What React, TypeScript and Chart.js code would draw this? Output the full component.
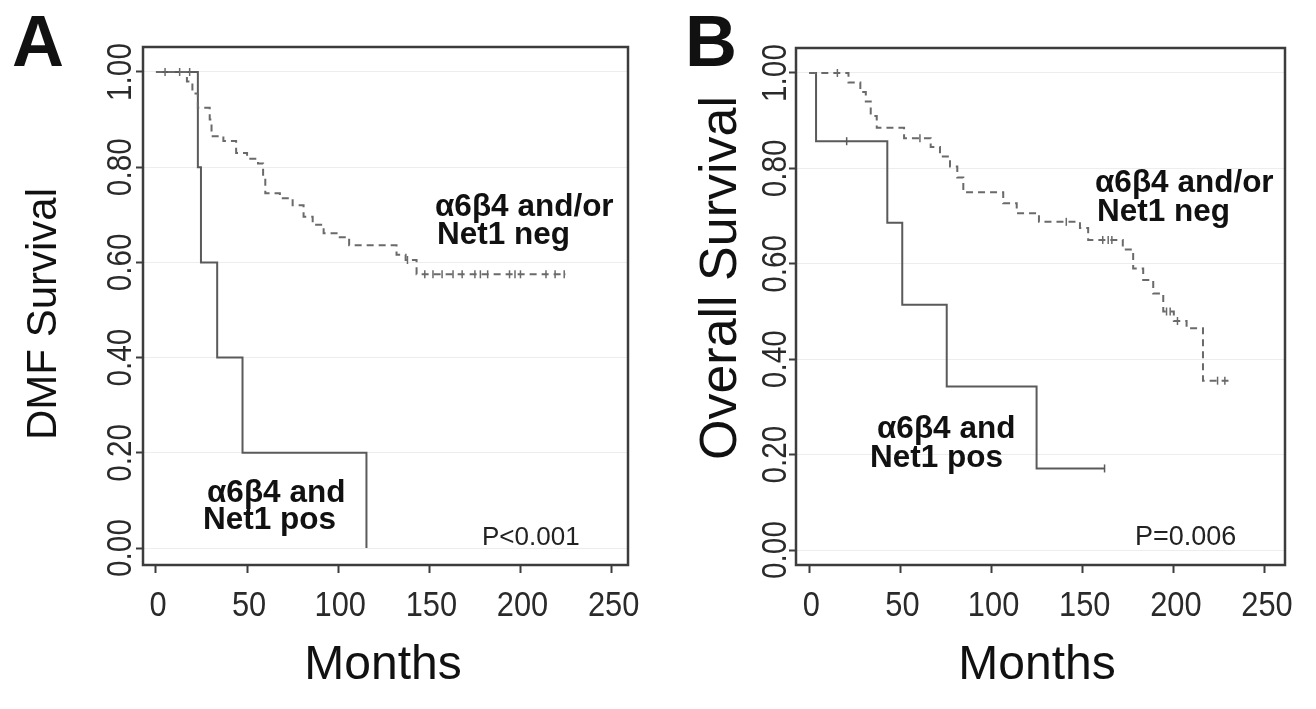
import React, { useEffect, useRef } from 'react';
import { Chart, registerables } from 'chart.js';

Chart.register(...registerables);

// ---------- Panel A: DMF survival ----------
const aNegMonths = [0, 17, 20, 23, 29.5, 30.5, 37, 44, 50, 56, 58.8, 60, 68, 75, 81, 86, 92, 100, 106, 132, 137, 143, 225];
const aNegSurv = [1, 0.98, 0.955, 0.925, 0.9, 0.865, 0.855, 0.83, 0.818, 0.808, 0.777, 0.745, 0.735, 0.72, 0.696, 0.679, 0.661, 0.653, 0.636, 0.616, 0.605, 0.575, 0.575];
const aNegCensorMonths = [5, 13, 18.5, 138, 147.5, 152, 157, 163, 168, 175, 178, 182, 194, 197, 200, 214, 219, 224];
const aNegCensorSurv = [1, 1, 1, 0.605, 0.575, 0.575, 0.575, 0.575, 0.575, 0.575, 0.575, 0.575, 0.575, 0.575, 0.575, 0.575, 0.575, 0.575];
const aPosMonths = [0, 23, 24.7, 33.6, 47.5, 115.5];
const aPosSurv = [1, 0.8, 0.6, 0.4, 0.2, 0];

// ---------- Panel B: Overall survival ----------
const bNegMonths = [0, 21.5, 28, 31, 33.7, 37, 52, 66.6, 71.7, 77.2, 81.2, 84.5, 106.4, 113.8, 126, 148.5, 153, 172, 177.7, 183.2, 188.7, 194.2, 200, 207, 216, 230];
const bNegSurv = [1, 0.98, 0.96, 0.94, 0.91, 0.885, 0.863, 0.845, 0.825, 0.804, 0.781, 0.75, 0.727, 0.706, 0.688, 0.675, 0.65, 0.63, 0.59, 0.566, 0.538, 0.5, 0.48, 0.465, 0.355, 0.355];
const bNegCensorMonths = [15.4, 60.7, 141, 161, 164, 166, 196, 198, 202, 224, 228];
const bNegCensorSurv = [1, 0.863, 0.688, 0.65, 0.65, 0.65, 0.5, 0.5, 0.48, 0.355, 0.355];
const bPosMonths = [0, 3.7, 42.8, 51, 75.4, 124.7, 162];
const bPosSurv = [1, 0.857, 0.686, 0.514, 0.343, 0.171, 0.171];
const bPosCensorMonths = [20.5, 162];
const bPosCensorSurv = [0.857, 0.171];

// ---------- Axes ----------
const xTickValues = [0, 50, 100, 150, 200, 250];
const xTickLabels = ['0', '50', '100', '150', '200', '250'];
const yTickValues = [0, 0.2, 0.4, 0.6, 0.8, 1.0];
const yTickLabels = ['0.00', '0.20', '0.40', '0.60', '0.80', '1.00'];

const FONT = '"Liberation Sans", Arial, Helvetica, sans-serif';

const pts = (xs: number[], ys: number[]) => xs.map((x, i) => ({ x, y: ys[i] }));

type PanelCfg = {
  letter: string;
  yTitle: string;
  pValue: string;
  negLabel: string[];
  posLabel: string[];
  neg: { x: number; y: number }[];
  negCensor: { x: number; y: number }[];
  pos: { x: number; y: number }[];
  posCensor: { x: number; y: number }[];
  layout: any;
};

const panelA: PanelCfg = {
  letter: 'A',
  yTitle: 'DMF Survival',
  pValue: 'P<0.001',
  negLabel: ['\u03B16\u03B24 and/or', 'Net1 neg'],
  posLabel: ['\u03B16\u03B24 and', 'Net1 pos'],
  neg: pts(aNegMonths, aNegSurv),
  negCensor: pts(aNegCensorMonths, aNegCensorSurv),
  pos: pts(aPosMonths, aPosSurv),
  posCensor: [],
  layout: {
    left: 143, top: 47, right: 628, bottom: 565,
    xMin: -7.1, xMax: 259, yMin: -0.0357, yMax: 1.0525,
    letterX: 12, letterY: 66, letterSize: 72,
    yTitleX: 44, yTitleY: 314, yTitleSize: 42,
    yLabelX: 121, xLabelY: 606,
    monthsX: 383, monthsY: 666,
    negX: [435, 437], negY: [216, 244],
    posX: [207, 203], posY: [502, 529],
    pX: 482, pY: 545, pSize: 26,
  },
};

const panelB: PanelCfg = {
  letter: 'B',
  yTitle: 'Overall Survival',
  pValue: 'P=0.006',
  negLabel: ['\u03B16\u03B24 and/or', 'Net1 neg'],
  posLabel: ['\u03B16\u03B24 and', 'Net1 pos'],
  neg: pts(bNegMonths, bNegSurv),
  negCensor: pts(bNegCensorMonths, bNegCensorSurv),
  pos: pts(bPosMonths, bPosSurv),
  posCensor: pts(bPosCensorMonths, bPosCensorSurv),
  layout: {
    left: 138, top: 48, right: 627, bottom: 565,
    xMin: -7.3, xMax: 261, yMin: -0.0314, yMax: 1.0524,
    letterX: 27, letterY: 66, letterSize: 72,
    yTitleX: 64, yTitleY: 278, yTitleSize: 52,
    yLabelX: 118, xLabelY: 606,
    monthsX: 379, monthsY: 666,
    negX: [437, 439], negY: [192, 221],
    posX: [219, 212], posY: [438, 467],
    pX: 477, pY: 545, pSize: 27,
  },
};

const W = 658;
const H = 709;

function Panel({ cfg, offset }: { cfg: PanelCfg; offset: number }) {
  const ref = useRef<HTMLCanvasElement>(null);

  useEffect(() => {
    const L = cfg.layout;
    const decor = {
      id: 'decor' + cfg.letter,
      afterDatasetsDraw(chart: any) {
        const ctx = chart.ctx;
        const ca = chart.chartArea;
        ctx.save();
        ctx.strokeStyle = '#3c3c3c';
        ctx.lineWidth = 2.5;
        ctx.strokeRect(ca.left, ca.top, ca.right - ca.left, ca.bottom - ca.top);
        ctx.restore();
      },
      afterDraw(chart: any) {
        const ctx = chart.ctx;
        const xs = chart.scales.x;
        const ys = chart.scales.y;
        ctx.save();
        ctx.fillStyle = '#111';
        // panel letter
        ctx.font = `bold ${L.letterSize}px ${FONT}`;
        ctx.textAlign = 'left';
        ctx.textBaseline = 'alphabetic';
        ctx.fillText(cfg.letter, L.letterX, L.letterY);
        // y title
        ctx.save();
        ctx.translate(L.yTitleX, L.yTitleY);
        ctx.rotate(-Math.PI / 2);
        ctx.font = `${L.yTitleSize}px ${FONT}`;
        ctx.textAlign = 'center';
        ctx.textBaseline = 'middle';
        ctx.fillText(cfg.yTitle, 0, 0);
        ctx.restore();
        // y tick labels (rotated, slightly condensed)
        ctx.fillStyle = '#2a2a2a';
        ctx.font = `35px ${FONT}`;
        yTickValues.forEach((v, i) => {
          const y = ys.getPixelForValue(v);
          ctx.save();
          ctx.translate(L.yLabelX, y);
          ctx.rotate(-Math.PI / 2);
          ctx.scale(0.85, 1);
          ctx.textAlign = 'center';
          ctx.textBaseline = 'middle';
          ctx.fillText(yTickLabels[i], 0, 0);
          ctx.restore();
        });
        // x tick labels (slightly condensed)
        xTickValues.forEach((v, i) => {
          ctx.save();
          ctx.translate(xs.getPixelForValue(v) + 2, L.xLabelY);
          ctx.scale(0.88, 1);
          ctx.textAlign = 'center';
          ctx.textBaseline = 'middle';
          ctx.fillText(xTickLabels[i], 0, 0);
          ctx.restore();
        });
        // x title
        ctx.fillStyle = '#111';
        ctx.font = `48px ${FONT}`;
        ctx.textAlign = 'center';
        ctx.textBaseline = 'middle';
        ctx.fillText('Months', L.monthsX, L.monthsY);
        // annotations
        ctx.textAlign = 'left';
        ctx.textBaseline = 'alphabetic';
        ctx.font = `bold 31.5px ${FONT}`;
        cfg.negLabel.forEach((s, i) => ctx.fillText(s, L.negX[i], L.negY[i]));
        cfg.posLabel.forEach((s, i) => ctx.fillText(s, L.posX[i], L.posY[i]));
        ctx.font = `${L.pSize}px ${FONT}`;
        ctx.fillStyle = '#222';
        ctx.fillText(cfg.pValue, L.pX, L.pY);
        ctx.restore();
      },
    };

    const chart = new Chart(ref.current as HTMLCanvasElement, {
      type: 'line',
      data: {
        datasets: [
          {
            label: 'neg',
            data: cfg.neg,
            stepped: 'before',
            borderColor: '#6a6a6a',
            borderWidth: 2,
            borderDash: [7, 5],
            pointRadius: 0,
            fill: false,
          },
          {
            label: 'negCensor',
            data: cfg.negCensor,
            showLine: false,
            pointStyle: 'line',
            rotation: 90,
            pointRadius: 4,
            borderColor: '#6a6a6a',
            borderWidth: 1.5,
          },
          {
            label: 'pos',
            data: cfg.pos,
            stepped: 'before',
            borderColor: '#5a5a5a',
            borderWidth: 2,
            pointRadius: 0,
            fill: false,
          },
          {
            label: 'posCensor',
            data: cfg.posCensor,
            showLine: false,
            pointStyle: 'line',
            rotation: 90,
            pointRadius: 4,
            borderColor: '#5a5a5a',
            borderWidth: 1.5,
          },
        ] as any,
      },
      options: {
        animation: false,
        responsive: false,
        maintainAspectRatio: false,
        events: [],
        layout: { padding: { left: 0, top: L.top, right: W - L.right, bottom: 0 } },
        plugins: { legend: { display: false }, tooltip: { enabled: false }, title: { display: false } },
        scales: {
          x: {
            type: 'linear',
            min: L.xMin,
            max: L.xMax,
            afterBuildTicks: (s: any) => { s.ticks = xTickValues.map((v) => ({ value: v })); },
            afterFit: (s: any) => { s.height = H - L.bottom; },
            ticks: { display: false },
            grid: { drawOnChartArea: false, drawTicks: true, tickLength: 8, tickColor: '#3c3c3c', tickWidth: 2 },
            border: { display: false },
          },
          y: {
            type: 'linear',
            min: L.yMin,
            max: L.yMax,
            afterBuildTicks: (s: any) => { s.ticks = yTickValues.map((v) => ({ value: v })); },
            afterFit: (s: any) => { s.width = L.left; },
            ticks: { display: false },
            grid: { drawOnChartArea: true, color: '#ededed', lineWidth: 1, drawTicks: true, tickLength: 7, tickColor: '#3c3c3c', tickWidth: 2 },
            border: { display: false },
          },
        },
      } as any,
      plugins: [decor],
    });
    return () => chart.destroy();
  }, [cfg]);

  return (
    <canvas
      ref={ref}
      width={W}
      height={H}
      style={{ position: 'absolute', left: offset, top: 0, width: W, height: H }}
    />
  );
}

export default function App() {
  return (
    <div style={{ position: 'fixed', left: 0, top: 0, width: 1316, height: 709, background: '#fff', overflow: 'hidden' }}>
      <Panel cfg={panelA} offset={0} />
      <Panel cfg={panelB} offset={658} />
    </div>
  );
}
